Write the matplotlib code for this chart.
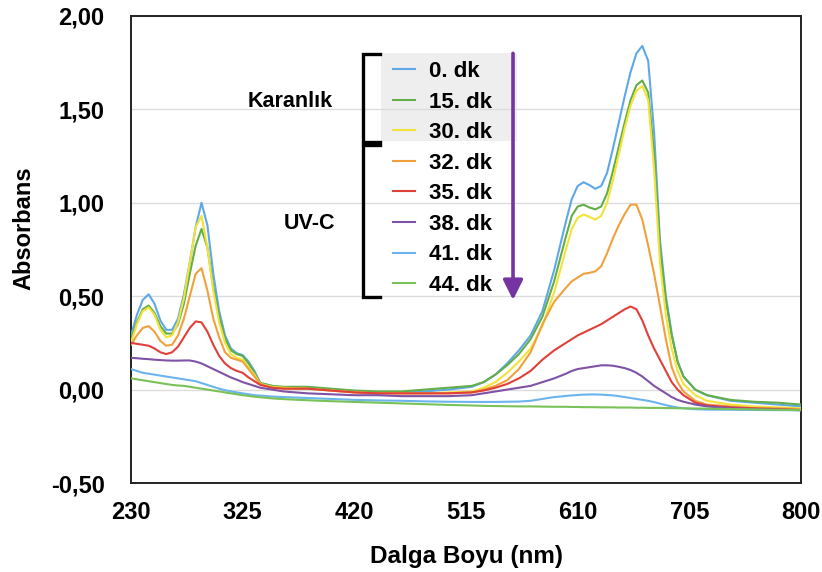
import matplotlib
matplotlib.use("Agg")
import matplotlib.pyplot as plt
from matplotlib.patches import Rectangle
from matplotlib.ticker import FuncFormatter

plt.rcParams['font.family'] = ['Liberation Sans', 'DejaVu Sans']
plt.rcParams['font.weight'] = 'bold'

# dalga boyu ekseni (nm)
wl = [230, 235, 240, 245, 250, 255, 260, 265, 270, 275, 280, 285, 290, 295, 300,
      305, 310, 315, 320, 325, 330, 335, 340,
      350, 360, 380, 400, 420, 440, 460, 480, 500, 520,
      530, 540, 550, 560, 570, 580, 590, 600,
      605, 610, 615, 620, 625, 630, 635, 640, 645, 650, 655, 660, 665, 670, 675,
      680, 685, 690, 695, 700,
      710, 720, 740, 760, 780, 800]

dk0 = [0.29, 0.40, 0.48, 0.51, 0.46, 0.37, 0.32, 0.32, 0.38, 0.51, 0.68, 0.87, 1.00, 0.88, 0.62,
       0.42, 0.29, 0.22, 0.195, 0.185, 0.15, 0.10, 0.035,
       0.02, 0.01, 0.01, 0.0, -0.01, -0.015, -0.015, -0.01, 0.0, 0.015,
       0.04, 0.08, 0.14, 0.21, 0.29, 0.42, 0.64, 0.90,
       1.02, 1.09, 1.11, 1.095, 1.075, 1.09, 1.16, 1.29, 1.43, 1.57, 1.70, 1.80, 1.84, 1.76, 1.38,
       0.80, 0.50, 0.30, 0.15, 0.07,
       0.0, -0.03, -0.06, -0.07, -0.08, -0.09]
dk15 = [0.27, 0.36, 0.43, 0.45, 0.41, 0.34, 0.30, 0.30, 0.35, 0.46, 0.62, 0.77, 0.86, 0.76, 0.55,
        0.39, 0.27, 0.21, 0.19, 0.18, 0.14, 0.09, 0.035,
        0.02, 0.015, 0.015, 0.005, -0.005, -0.01, -0.01, 0.0, 0.01, 0.02,
        0.04, 0.08, 0.13, 0.19, 0.27, 0.39, 0.58, 0.82,
        0.93, 0.98, 0.99, 0.975, 0.965, 0.98, 1.05, 1.17, 1.30, 1.43, 1.55, 1.63, 1.655, 1.59, 1.26,
        0.76, 0.48, 0.29, 0.15, 0.07,
        0.0, -0.03, -0.055, -0.065, -0.07, -0.08]
dk30 = [0.25, 0.35, 0.42, 0.44, 0.40, 0.32, 0.28, 0.29, 0.36, 0.49, 0.68, 0.87, 0.93, 0.76, 0.53,
        0.36, 0.25, 0.19, 0.17, 0.16, 0.12, 0.08, 0.03,
        0.015, 0.01, 0.005, -0.005, -0.015, -0.02, -0.02, -0.02, -0.015, -0.01,
        0.01, 0.04, 0.09, 0.15, 0.22, 0.34, 0.52, 0.75,
        0.86, 0.92, 0.937, 0.925, 0.91, 0.93, 1.00, 1.12, 1.26, 1.40, 1.52, 1.60, 1.625, 1.55, 1.18,
        0.68, 0.40, 0.22, 0.10, 0.03,
        -0.03, -0.06, -0.08, -0.09, -0.095, -0.10]
dk32 = [0.24, 0.29, 0.33, 0.34, 0.31, 0.26, 0.235, 0.24, 0.29, 0.38, 0.50, 0.62, 0.65, 0.53, 0.38,
        0.28, 0.20, 0.17, 0.16, 0.15, 0.11, 0.07, 0.03,
        0.01, 0.005, 0.005, -0.005, -0.015, -0.02, -0.02, -0.02, -0.02, -0.015,
        0.0, 0.02, 0.05, 0.11, 0.20, 0.35, 0.47, 0.545,
        0.58, 0.60, 0.62, 0.625, 0.633, 0.66, 0.73, 0.81, 0.88, 0.94, 0.99, 0.99, 0.91, 0.77, 0.62,
        0.45, 0.27, 0.12, 0.04, -0.01,
        -0.06, -0.08, -0.09, -0.10, -0.10, -0.105]
dk35 = [0.25, 0.245, 0.24, 0.235, 0.22, 0.20, 0.19, 0.20, 0.23, 0.28, 0.33, 0.365, 0.36, 0.31, 0.24,
        0.18, 0.14, 0.115, 0.10, 0.09, 0.065, 0.045, 0.025,
        0.01, 0.005, 0.005, -0.005, -0.015, -0.02, -0.02, -0.02, -0.02, -0.015,
        -0.005, 0.01, 0.03, 0.06, 0.10, 0.16, 0.21, 0.25,
        0.27, 0.29, 0.305, 0.32, 0.335, 0.35, 0.37, 0.39, 0.41, 0.43, 0.445, 0.43, 0.37, 0.29, 0.22,
        0.16, 0.10, 0.04, 0.0, -0.03,
        -0.07, -0.085, -0.095, -0.10, -0.105, -0.11]
dk38 = [0.17, 0.168, 0.165, 0.163, 0.16, 0.158, 0.156, 0.155, 0.155, 0.156, 0.156, 0.15, 0.14, 0.125, 0.11,
        0.095, 0.08, 0.065, 0.053, 0.04, 0.03, 0.02, 0.01,
        0.0, -0.01, -0.02, -0.025, -0.03, -0.03, -0.035, -0.035, -0.035, -0.03,
        -0.02, -0.01, 0.0, 0.01, 0.02, 0.04, 0.06, 0.085,
        0.10, 0.11, 0.115, 0.12, 0.125, 0.13, 0.13, 0.128, 0.122, 0.115, 0.105, 0.09, 0.07, 0.045, 0.02,
        0.0, -0.02, -0.04, -0.055, -0.065,
        -0.08, -0.09, -0.10, -0.105, -0.108, -0.11]
dk41 = [0.11, 0.10, 0.09, 0.085, 0.08, 0.075, 0.07, 0.065, 0.06, 0.055, 0.05, 0.045, 0.035, 0.025, 0.015,
        0.005, -0.003, -0.01, -0.015, -0.02, -0.025, -0.03, -0.032,
        -0.037, -0.04, -0.045, -0.05, -0.055, -0.058, -0.06, -0.063, -0.065, -0.066,
        -0.066, -0.066, -0.065, -0.064, -0.06, -0.05, -0.04, -0.034,
        -0.031, -0.029, -0.027, -0.026, -0.026, -0.027, -0.029, -0.031, -0.035, -0.04, -0.045, -0.05, -0.055, -0.06, -0.067,
        -0.075, -0.083, -0.09, -0.096, -0.10,
        -0.105, -0.107, -0.108, -0.109, -0.11, -0.11]
dk44 = [0.06, 0.055, 0.05, 0.045, 0.04, 0.035, 0.03, 0.025, 0.022, 0.02, 0.015, 0.01, 0.005, 0.0, -0.005,
        -0.01, -0.015, -0.02, -0.025, -0.03, -0.034, -0.038, -0.041,
        -0.047, -0.051, -0.057, -0.062, -0.066, -0.07, -0.074, -0.078, -0.082, -0.085,
        -0.087, -0.088, -0.089, -0.09, -0.09, -0.091, -0.092, -0.092,
        -0.093, -0.093, -0.094, -0.094, -0.094, -0.095, -0.095, -0.095, -0.096, -0.096, -0.096, -0.097, -0.097, -0.098, -0.098,
        -0.098, -0.099, -0.099, -0.10, -0.10,
        -0.101, -0.102, -0.104, -0.106, -0.108, -0.11]

labels = ['0. dk', '15. dk', '30. dk', '32. dk', '35. dk', '38. dk', '41. dk', '44. dk']
series = [dk0, dk15, dk30, dk32, dk35, dk38, dk41, dk44]
colors = ['#5fa8e8', '#63ae48', '#f2e33a', '#f0a13c', '#e0403a', '#8052a6', '#6cb4ee', '#79c257']

fig = plt.figure(figsize=(8.22, 5.72), dpi=100)
ax = fig.add_axes([131 / 822, 1 - 483 / 572, 670 / 822, 467 / 572])

# gri arka plan (karanlık grubu)
ax.add_patch(Rectangle((443, 1.33), 115, 0.47, facecolor='#eeeeee', edgecolor='none', zorder=0))

lines = []
for y, lab, c in zip(series, labels, colors):
    ln, = ax.plot(wl, y, color=c, lw=1.5, label=lab, zorder=3, solid_joinstyle='round')
    lines.append(ln)

ax.set_xlim(230, 800)
ax.set_ylim(-0.5, 2.0)
ax.set_xticks([230, 325, 420, 515, 610, 705, 800])
ax.set_yticks([-0.5, 0, 0.5, 1.0, 1.5, 2.0])
ax.yaxis.set_major_formatter(FuncFormatter(lambda v, p: f"{v:.2f}".replace('.', ',')))
ax.tick_params(length=0, labelsize=17)
ax.tick_params(axis='y', pad=19)
ax.tick_params(axis='x', pad=13)
ax.grid(axis='y', color='#dcdcdc', lw=1, zorder=1)
ax.set_axisbelow(True)
for s in ax.spines.values():
    s.set_color('#222222')
    s.set_linewidth(1.4)

ax.set_xlabel('Dalga Boyu (nm)', fontsize=17.5, fontweight='bold', labelpad=15)
ax.set_ylabel('Absorbans', fontsize=17, fontweight='bold')
ax.yaxis.set_label_coords(-0.143, 0.545)

leg = ax.legend(handles=lines, loc='upper left', bbox_to_anchor=(393 / 822, 1 - 61 / 572),
                bbox_transform=fig.transFigure, frameon=False, fontsize=16,
                handlelength=1.0, handletextpad=0.6, labelspacing=0.43,
                borderpad=0, borderaxespad=0)
for t in leg.get_texts():
    t.set_fontweight('bold')

# köşeli parantezler
ax.plot([441.5, 427.5, 427.5, 441.5], [1.794, 1.794, 1.328, 1.328], color='black', lw=2.4,
        solid_joinstyle='miter', zorder=4)
ax.plot([441.5, 427.5, 427.5, 441.5], [1.312, 1.312, 0.498, 0.498], color='black', lw=2.4,
        solid_joinstyle='miter', zorder=4)
ax.text(402, 1.54, 'Karanlık', fontsize=15.5, fontweight='bold', ha='right', va='center')
ax.text(404, 0.89, 'UV-C', fontsize=15.5, fontweight='bold', ha='right', va='center')

# zaman yönü oku
ax.annotate('', xy=(555, 0.48), xytext=(555, 1.80),
            arrowprops=dict(arrowstyle='-|>', color='#7435a3', lw=2.6, mutation_scale=30,
                            shrinkA=0, shrinkB=0), zorder=4)

fig.savefig('out.png', dpi=100)
